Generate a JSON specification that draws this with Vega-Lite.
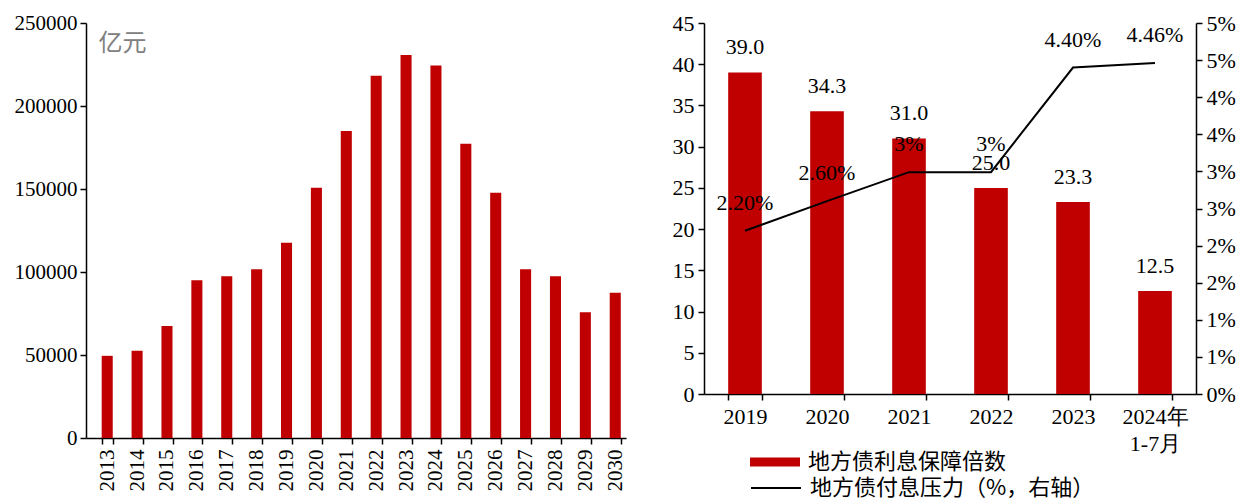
{
  "$schema": "https://vega.github.io/schema/vega-lite/v6.json",
  "padding": {"left": 14, "top": 12, "right": 5, "bottom": 0},
  "config": {
    "view": {"stroke": null},
    "font": "Liberation Serif",
    "axis": {"domainColor": "black", "tickColor": "black", "labelColor": "black", "grid": false, "labelFont": "Liberation Serif", "domainWidth": 1.5, "tickWidth": 1.5, "tickSize": 6},
    "legend": {"labelFont": "Noto Sans CJK SC", "labelFontSize": 22, "labelColor": "black", "labelLimit": 500}
  },
  "spacing": 46,
  "hconcat": [
    {
      "width": 540,
      "height": 415,
      "data": {"values": [
        {"year": "2013", "value": 49500},
        {"year": "2014", "value": 52500},
        {"year": "2015", "value": 67400},
        {"year": "2016", "value": 95100},
        {"year": "2017", "value": 97500},
        {"year": "2018", "value": 101600},
        {"year": "2019", "value": 117600},
        {"year": "2020", "value": 150800},
        {"year": "2021", "value": 185000},
        {"year": "2022", "value": 218200},
        {"year": "2023", "value": 230700},
        {"year": "2024", "value": 224400},
        {"year": "2025", "value": 177200},
        {"year": "2026", "value": 147800},
        {"year": "2027", "value": 101600},
        {"year": "2028", "value": 97500},
        {"year": "2029", "value": 75800},
        {"year": "2030", "value": 87500}
      ]},
      "mark": {"type": "bar", "color": "#C00000"},
      "encoding": {
        "x": {"field": "year", "type": "ordinal", "scale": {"paddingInner": 0.63, "paddingOuter": 0.35, "align": 0.75},
          "axis": {"title": null, "labelAngle": -90, "labelFontSize": 21, "tickBand": "extent", "labelPadding": 5}},
        "y": {"field": "value", "type": "quantitative", "scale": {"domain": [0, 250000]},
          "axis": {"values": [0, 50000, 100000, 150000, 200000, 250000], "format": "d", "labelFontSize": 21, "labelPadding": 3,
            "title": "亿元", "titleAngle": 0, "titleX": 12, "titleY": 20, "titleColor": "#808080", "titleFont": "Noto Sans CJK SC", "titleFontSize": 24, "titleFontWeight": "normal", "titleAlign": "left", "titleBaseline": "middle"}}
      }
    },
    {
      "width": 492,
      "height": 371,
      "data": {"values": [
        {"period": "2019", "ratio": 39.0, "pressure": 2.2, "plabel": "2.20%"},
        {"period": "2020", "ratio": 34.3, "pressure": 2.6, "plabel": "2.60%"},
        {"period": "2021", "ratio": 31.0, "pressure": 2.99, "plabel": "3%"},
        {"period": "2022", "ratio": 25.0, "pressure": 2.99, "plabel": "3%"},
        {"period": "2023", "ratio": 23.3, "pressure": 4.4, "plabel": "4.40%"},
        {"period": "2024年\n1-7月", "ratio": 12.5, "pressure": 4.46, "plabel": "4.46%"}
      ]},
      "encoding": {
        "x": {"field": "period", "type": "ordinal", "sort": null, "scale": {"paddingInner": 0.59, "paddingOuter": 0.295},
          "axis": {"title": null, "labelAngle": 0, "labelFontSize": 22, "tickBand": "extent", "labelPadding": 6, "labelLineHeight": 27, "labelExpr": "split(datum.label, '\\n')", "labelFont": "Liberation Serif"}}
      },
      "layer": [
        {
          "layer": [
            {
              "mark": {"type": "bar"},
              "encoding": {
                "y": {"field": "ratio", "type": "quantitative", "scale": {"domain": [0, 45]},
                  "axis": {"title": null, "values": [0, 5, 10, 15, 20, 25, 30, 35, 40, 45], "labelFontSize": 22, "labelPadding": 4}},
                "fill": {"datum": "地方债利息保障倍数", "type": "nominal", "scale": {"range": ["#C00000"]},
                  "legend": {"title": null, "orient": "none", "legendX": 46, "legendY": 414, "symbolType": "M-1,-0.18H1V0.18H-1Z", "symbolSize": 2500, "symbolStrokeWidth": 0, "labelOffset": 8}}
              }
            },
            {
              "mark": {"type": "text", "fontSize": 22, "dy": -25, "baseline": "middle", "color": "black", "font": "Liberation Serif"},
              "encoding": {
                "y": {"field": "ratio", "type": "quantitative", "scale": {"domain": [0, 45]},
                  "axis": {"title": null, "values": [0, 5, 10, 15, 20, 25, 30, 35, 40, 45], "labelFontSize": 22, "labelPadding": 4}},
                "text": {"field": "ratio", "type": "quantitative", "format": ".1f"}
              }
            }
          ]
        },
        {
          "layer": [
            {
              "mark": {"type": "line", "color": "black", "strokeWidth": 2},
              "encoding": {
                "y": {"field": "pressure", "type": "quantitative", "scale": {"domain": [0, 5]},
                  "axis": {"orient": "right", "title": null, "values": [0, 0.5, 1, 1.5, 2, 2.5, 3, 3.5, 4, 4.5, 5], "labelExpr": "round(datum.value) + '%'", "labelFontSize": 22, "labelPadding": 4, "labelOverlap": false}},
                "stroke": {"datum": "地方债付息压力（%，右轴）", "type": "nominal", "scale": {"range": ["black"]},
                  "legend": {"title": null, "orient": "none", "legendX": 46, "legendY": 439, "symbolType": "stroke", "symbolSize": 2500, "symbolStrokeWidth": 2, "labelOffset": 8}}
              }
            },
            {
              "mark": {"type": "text", "fontSize": 22, "dy": -28, "baseline": "middle", "color": "black", "font": "Liberation Serif"},
              "encoding": {
                "y": {"field": "pressure", "type": "quantitative", "scale": {"domain": [0, 5]},
                  "axis": {"orient": "right", "title": null, "values": [0, 0.5, 1, 1.5, 2, 2.5, 3, 3.5, 4, 4.5, 5], "labelExpr": "round(datum.value) + '%'", "labelFontSize": 22, "labelPadding": 4, "labelOverlap": false}},
                "text": {"field": "plabel", "type": "nominal"}
              }
            }
          ]
        }
      ],
      "resolve": {"scale": {"y": "independent", "fill": "independent", "stroke": "independent"}}
    }
  ]
}
